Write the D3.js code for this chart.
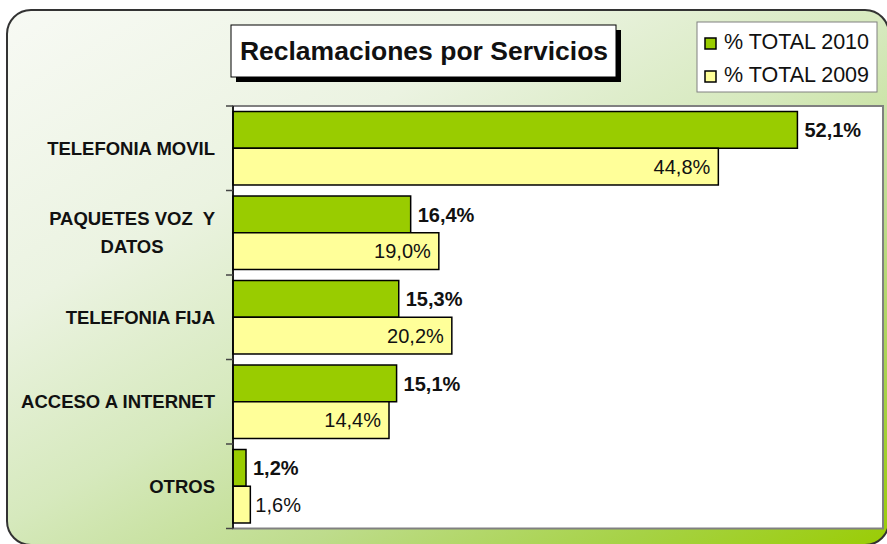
<!DOCTYPE html>
<html>
<head>
<meta charset="utf-8">
<script src="https://cdn.jsdelivr.net/npm/d3@7/dist/d3.min.js"></script>
<style>
  html, body { margin: 0; padding: 0; background: #fff; }
  svg { display: block; font-family: "Liberation Sans", Arial, sans-serif; }
</style>
</head>
<body>
<div id="chart"></div>
<script>
const width = 887
const height = 544

// data
const categories = ["TELEFONIA MOVIL", "PAQUETES VOZ  Y\nDATOS", "TELEFONIA FIJA", "ACCESO A INTERNET", "OTROS"];
const series = ["% TOTAL 2010", "% TOTAL 2009"];
const total2010 = [52.1, 16.4, 15.3, 15.1, 1.2];
const total2009 = [44.8, 19.0, 20.2, 14.4, 1.6];
const colors = ["#99cc00", "#ffff99"];

const fmt = v => v.toFixed(1).replace(".", ",") + "%";

const svg = d3.select("#chart")
  .append("svg")
  .attr("width", width)
  .attr("height", height);

const defs = svg.append("defs");
const bg = defs.append("linearGradient")
  .attr("id", "bg-gradient")
  .attr("gradientUnits", "userSpaceOnUse")
  .attr("x1", 0).attr("y1", 0)
  .attr("x2", 450).attr("y2", 800);
[[0, "#f8faf5"], [0.3, "#ebf3e1"], [0.5, "#d6e9bd"], [0.68, "#bedc8c"], [0.85, "#a6d245"], [1, "#99cc00"]]
  .forEach(s => bg.append("stop").attr("offset", s[0]).attr("stop-color", s[1]));

// outer rounded frame
svg.append("rect")
  .attr("x", 7)
  .attr("y", 10)
  .attr("width", 882)
  .attr("height", 535)
  .attr("rx", 24)
  .attr("fill", "url(#bg-gradient)")
  .attr("stroke", "#333")
  .attr("stroke-width", 2);

const margin = {left: 233, right: 883, top: 106, bottom: 528.5};

const x = d3.scaleLinear()
  .domain([0, 60])
  .range([margin.left, margin.right]);

const y = d3.scaleBand()
  .domain(categories)
  .range([margin.top, margin.bottom]);

const ySub = d3.scaleBand()
  .domain(series)
  .range([0, y.bandwidth()])
  .paddingOuter(0.15);

// plot area
svg.append("rect")
  .attr("x", margin.left)
  .attr("y", margin.top)
  .attr("width", margin.right - margin.left)
  .attr("height", margin.bottom - margin.top)
  .attr("fill", "white")
  .attr("stroke", "#808080")
  .attr("stroke-width", 2);

const rows = categories.map((c, i) => ({cat: c, values: [total2010[i], total2009[i]]}));

const groups = svg.selectAll("g.row")
  .data(rows)
  .join("g")
  .attr("class", "row")
  .attr("transform", d => `translate(0,${y(d.cat)})`);

groups.selectAll("rect")
  .data(d => d.values.map((v, j) => ({v, s: series[j], j})))
  .join("rect")
  .attr("x", x(0))
  .attr("y", d => ySub(d.s))
  .attr("width", d => x(d.v) - x(0))
  .attr("height", ySub.bandwidth())
  .attr("fill", d => colors[d.j])
  .attr("stroke", "black")
  .attr("stroke-width", 1.5);

// value labels
groups.selectAll("text.val")
  .data(d => d.values.map((v, j) => ({v, s: series[j], j})))
  .join("text")
  .attr("class", "val")
  .attr("y", d => ySub(d.s) + ySub.bandwidth() / 2)
  .attr("dy", "0.36em")
  .attr("font-size", 20)
  .attr("font-weight", d => d.j === 0 ? "bold" : "normal")
  .attr("fill", "#111")
  .text(d => fmt(d.v))
  .each(function (d) {
    const t = d3.select(this);
    const w = this.getComputedTextLength();
    const barW = x(d.v) - x(0);
    if (d.j === 1 && barW > w + 16) {
      t.attr("x", x(d.v) - 8).attr("text-anchor", "end");
    } else {
      t.attr("x", x(d.v) + (d.j === 0 ? 7 : 5)).attr("text-anchor", "start");
    }
  });

// axis line and ticks
const yAxis = svg.append("g")
  .attr("transform", `translate(${margin.left},0)`);
yAxis.append("line")
  .attr("x1", 0).attr("x2", 0)
  .attr("y1", margin.top).attr("y2", margin.bottom)
  .attr("stroke", "black")
  .attr("stroke-width", 1.5);
yAxis.selectAll("line.tick")
  .data(categories.map(c => y(c)).concat([y.range()[1]]))
  .join("line")
  .attr("class", "tick")
  .attr("x1", -7).attr("x2", 0)
  .attr("y1", d => d).attr("y2", d => d)
  .attr("stroke", "#444")
  .attr("stroke-width", 1.5);

// category labels
const labelRight = 215;
const lineGap = 28;
svg.selectAll("text.cat")
  .data(categories)
  .join("text")
  .attr("class", "cat")
  .attr("font-size", 18.5)
  .attr("font-weight", "bold")
  .attr("fill", "#111")
  .style("white-space", "pre")
  .each(function (c) {
    const t = d3.select(this);
    const lines = c.split("\n");
    const cy = y(c) + y.bandwidth() / 2;
    const spans = lines.map((l, i) => t.append("tspan")
      .attr("y", cy + (i - (lines.length - 1) / 2) * lineGap)
      .attr("dy", "0.36em")
      .text(l));
    const w = d3.max(spans, s => s.node().getComputedTextLength());
    spans.forEach(s => s.attr("x", labelRight - w / 2));
    t.attr("text-anchor", "middle");
  });

// title box
svg.append("rect")
  .attr("x", 236).attr("y", 30)
  .attr("width", 385).attr("height", 52)
  .attr("fill", "black");
svg.append("rect")
  .attr("x", 231).attr("y", 25)
  .attr("width", 385).attr("height", 52)
  .attr("fill", "white")
  .attr("stroke", "black")
  .attr("stroke-width", 1);
svg.append("text")
  .attr("x", 424)
  .attr("y", 60)
  .attr("text-anchor", "middle")
  .attr("font-size", 26.5)
  .attr("font-weight", "bold")
  .attr("fill", "#111")
  .text("Reclamaciones por Servicios");

// legend
const legend = svg.append("g").attr("transform", "translate(697,22)");
legend.append("rect")
  .attr("width", 180).attr("height", 70)
  .attr("fill", "white")
  .attr("stroke", "#808080")
  .attr("stroke-width", 1);
const items = legend.selectAll("g.item")
  .data(series)
  .join("g")
  .attr("class", "item")
  .attr("transform", (d, i) => `translate(0,${16 + i * 33})`);
items.append("rect")
  .attr("x", 8).attr("y", 0)
  .attr("width", 11).attr("height", 11)
  .attr("fill", (d, i) => colors[i])
  .attr("stroke", "black")
  .attr("stroke-width", 1.5);
items.append("text")
  .attr("x", 27)
  .attr("y", 10.5)
  .attr("font-size", 21.5)
  .attr("fill", "#111")
  .text(d => d);
</script>
</body>
</html>
